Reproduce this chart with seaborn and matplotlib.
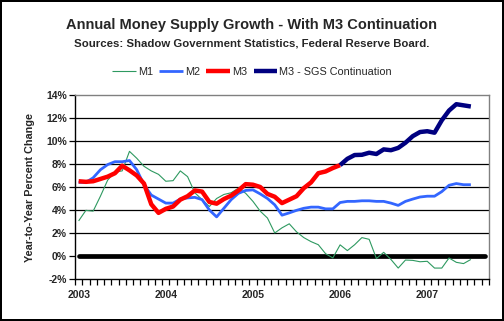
import numpy as np
import pandas as pd
import matplotlib
matplotlib.use("Agg")
import matplotlib.pyplot as plt
import seaborn as sns

# ---------------- data ----------------
months = pd.date_range("2003-01-01", periods=57, freq="MS").strftime("%Y-%m").tolist()
year_labels = ["2003", "2004", "2005", "2006", "2007"]

m1 = [3.05, 3.97, 3.9, 5.2, 6.6, 7.3, 7.4, 9.1, 8.5, 7.8, 7.4, 7.1, 6.5, 6.55, 7.4,
      6.9, 5.5, 4.9, 4.3, 5.0, 5.35, 5.5, 5.9, 5.45, 4.75, 3.9, 3.3, 2.0, 2.45, 2.8,
      2.1, 1.6, 1.25, 0.98, 0.2, -0.17, 0.97, 0.47, 0.98, 1.6, 1.45, -0.22, 0.32,
      -0.3, -1.05, -0.35, -0.38, -0.5, -0.46, -1.05, -1.05, -0.17, -0.55, -0.66, -0.3]
m2 = [6.4, 6.4, 6.8, 7.5, 7.95, 8.2, 8.2, 8.3, 7.5, 6.2, 5.3, 4.95, 4.6, 4.6, 4.95,
      5.05, 5.1, 4.9, 4.0, 3.4, 4.15, 4.9, 5.45, 5.7, 5.75, 5.4, 5.0, 4.45, 3.55, 3.75,
      3.97, 4.15, 4.25, 4.25, 4.1, 4.1, 4.65, 4.75, 4.75, 4.8, 4.8, 4.75, 4.75, 4.6,
      4.4, 4.75, 4.95, 5.13, 5.2, 5.2, 5.6, 6.15, 6.3, 6.2, 6.2]
m3 = [6.5, 6.45, 6.5, 6.7, 6.9, 7.2, 7.85, 7.45, 7.0, 6.3, 4.5, 3.75, 4.1, 4.3, 4.9,
      5.2, 5.7, 5.6, 4.7, 4.55, 4.95, 5.25, 5.7, 6.25, 6.2, 6.0, 5.4, 5.15, 4.6, 4.9,
      5.2, 5.9, 6.4, 7.2, 7.35, 7.65, 7.9]
m3_sgs_start = 36
m3_sgs = [7.9, 8.45, 8.78, 8.8, 8.98, 8.87, 9.27, 9.2, 9.4, 9.85, 10.42, 10.78, 10.85,
          10.72, 11.8, 12.65, 13.2, 13.1, 13.0]

series_names = ["M1", "M2", "M3", "M3 - SGS Continuation"]
colors = ["#2E9960", "#3366FF", "#FF0000", "#000080"]
widths = [0.8, 2.0, 3.2, 3.2]

# ---------------- figure ----------------
sns.set_style("white")
plt.rcParams["font.family"] = ["Liberation Sans", "DejaVu Sans"]

fig = plt.figure(figsize=(5.04, 3.21), dpi=100, facecolor="white",
                 edgecolor="black", linewidth=1.5)
ax = fig.add_axes([75 / 504, 1 - 279 / 321, (489 - 75) / 504, (279 - 95) / 321])

pos = np.arange(len(months))
frames = [
    pd.DataFrame({"x": pos[:len(m1)], "y": m1}),
    pd.DataFrame({"x": pos[:len(m2)], "y": m2}),
    pd.DataFrame({"x": pos[:len(m3)], "y": m3}),
    pd.DataFrame({"x": pos[m3_sgs_start:m3_sgs_start + len(m3_sgs)], "y": m3_sgs}),
]

# gridlines
for g in [2, 4, 6, 8, 10, 12]:
    ax.axhline(g, color="black", lw=0.9, zorder=1)

# zero line across categories
sns.lineplot(x=pos, y=np.zeros(len(pos)), ax=ax, color="black", lw=3.4,
             zorder=2, legend=False)

for df, name, c, w in zip(frames, series_names, colors, widths):
    sns.lineplot(data=df, x="x", y="y", ax=ax, color=c, lw=w, label=name,
                 zorder=3, solid_capstyle="butt", solid_joinstyle="round")

ax.set_xlim(-0.5, len(months) - 0.5)
ax.set_ylim(-2, 14)

ax.set_yticks(range(-2, 15, 2))
ax.set_yticklabels([f"{v}%" for v in range(-2, 15, 2)], fontsize=7.5,
                   fontweight="bold")
ax.set_xticks([i for i, m in enumerate(months) if m.endswith("-01")])
ax.set_xticklabels(year_labels, fontsize=7.5, fontweight="bold")
ax.set_xticks(np.arange(-0.5, len(months)), minor=True)
ax.tick_params(axis="x", which="major", length=0, pad=8)
ax.tick_params(axis="x", which="minor", length=4, width=0.9, color="black",
               direction="out", bottom=True)
ax.tick_params(axis="y", which="major", length=4, width=0.9, color="black",
               direction="out", left=True, pad=2)

for s in ["top", "right"]:
    ax.spines[s].set_color("#808080")
    ax.spines[s].set_linewidth(1.0)
for s in ["left", "bottom"]:
    ax.spines[s].set_color("black")
    ax.spines[s].set_linewidth(1.0)

ax.set_xlabel("")
ax.set_ylabel("Year-to-Year Percent Change", fontsize=7.8, fontweight="bold",
              labelpad=8)

fig.text(0.5, 1 - 25 / 321, "Annual Money Supply Growth - With M3 Continuation",
         ha="center", va="center", fontsize=10.5, fontweight="bold")
fig.text(0.5, 1 - 43 / 321, "Sources: Shadow Government Statistics, Federal Reserve Board.",
         ha="center", va="center", fontsize=8.2, fontweight="bold")

if ax.legend_:
    ax.legend_.remove()
handles, labels = ax.get_legend_handles_labels()
fig.legend(handles, labels, loc="center", bbox_to_anchor=(0.5, 1 - 72 / 321),
           ncol=4, frameon=False, fontsize=7.8, handlelength=2.2,
           handletextpad=0.15, columnspacing=0.6, borderaxespad=0)

fig.savefig("out.png", dpi=100, facecolor="white", edgecolor="black")
